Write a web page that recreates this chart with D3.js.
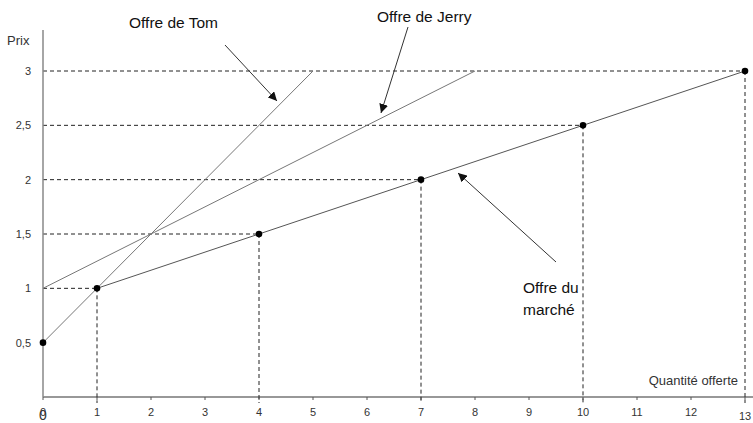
<!DOCTYPE html>
<html lang="fr">
<head>
  <meta charset="UTF-8">
  <title>Offre de Tom, de Jerry et du marché</title>
  <script src="https://d3js.org/d3.v7.min.js"></script>
  <style>
    body { background: #fff; margin: 0; }
    svg { display: block; font-family: "Liberation Sans", Arial, sans-serif; }
    .tick-label { font-size: 11px; fill: #333; }
    .axis-label { font-size: 13px; fill: #333; }
    .note { font-size: 15.5px; fill: #111; }
    .dash { stroke: #222; stroke-width: 1; stroke-dasharray: 4 3; fill: none; }
  </style>
</head>
<body>
  <svg width="753" height="423"></svg>

  <script>
// data
const xTicks = [0, 1, 2, 3, 4, 5, 6, 7, 8, 9, 10, 11, 12, 13];
const yTicks = [0.5, 1, 1.5, 2, 2.5, 3];
const yTickLabels = ["0,5", "1", "1,5", "2", "2,5", "3"];
const tomQty = [0, 5];
const tomPrice = [0.5, 3];
const jerryQty = [0, 8];
const jerryPrice = [1, 3];
const marketQty = [0, 1, 4, 7, 10, 13];
const marketPrice = [0.5, 1, 1.5, 2, 2.5, 3];

const svg = d3.select("svg");
const x = d3.scaleLinear().domain([0, 13]).range([43, 745]);
const y = d3.scaleLinear().domain([0, 3]).range([397, 71]);

// dashed guides (price level across, quantity down)
marketQty.forEach((q, i) => {
  const p = marketPrice[i];
  if (p >= 1) {
    svg.append("line").attr("class", "dash")
      .attr("x1", x(0)).attr("x2", x(q))
      .attr("y1", y(p)).attr("y2", y(p));
  }
  if (q > 0) {
    svg.append("line").attr("class", "dash")
      .attr("x1", x(q)).attr("x2", x(q))
      .attr("y1", y(p)).attr("y2", y(0) + 6);
  }
});

// axes
svg.append("line")
  .attr("x1", x(0)).attr("x2", 753)
  .attr("y1", y(0)).attr("y2", y(0))
  .attr("stroke", "#333").attr("stroke-width", 1.2);
svg.append("line")
  .attr("x1", x(0)).attr("x2", x(0))
  .attr("y1", 30).attr("y2", y(0))
  .attr("stroke", "#888").attr("stroke-width", 1.5);

svg.selectAll(".xtick").data(xTicks).enter().append("line")
  .attr("x1", d => x(d)).attr("x2", d => x(d))
  .attr("y1", y(0)).attr("y2", y(0) + 3)
  .attr("stroke", "#555");

svg.selectAll(".xlab").data(xTicks).enter().append("text")
  .attr("class", "tick-label")
  .attr("x", d => x(d)).attr("y", d => d === 13 ? 420 : 416)
  .attr("text-anchor", "middle")
  .text(d => d);
// the doubled zero under the origin
svg.append("text")
  .attr("x", x(0)).attr("y", 420)
  .attr("text-anchor", "middle")
  .attr("font-size", 14).attr("fill", "#333")
  .text("0");

svg.selectAll(".ylab").data(yTicks).enter().append("text")
  .attr("class", "tick-label")
  .attr("x", 31).attr("y", d => y(d) + 4)
  .attr("text-anchor", "end")
  .text((d, i) => yTickLabels[i]);

svg.append("text").attr("class", "axis-label")
  .attr("x", 7).attr("y", 45).text("Prix");
svg.append("text").attr("class", "axis-label")
  .attr("x", 738).attr("y", 385).attr("text-anchor", "end")
  .text("Quantité offerte");

// supply curves
const line = d3.line().x(d => x(d[0])).y(d => y(d[1]));
svg.append("path")
  .attr("d", line(d3.zip(tomQty, tomPrice)))
  .attr("stroke", "#777").attr("fill", "none");
svg.append("path")
  .attr("d", line(d3.zip(jerryQty, jerryPrice)))
  .attr("stroke", "#777").attr("fill", "none");
svg.append("path")
  .attr("d", line(d3.zip(marketQty, marketPrice).slice(1)))
  .attr("stroke", "#555").attr("fill", "none");

svg.selectAll(".pt").data(d3.zip(marketQty, marketPrice)).enter().append("circle")
  .attr("cx", d => x(d[0])).attr("cy", d => y(d[1]))
  .attr("r", 3.3).attr("fill", "#000");

// annotations
svg.append("defs").append("marker")
  .attr("id", "head")
  .attr("viewBox", "0 0 10 10")
  .attr("refX", 10).attr("refY", 5)
  .attr("markerWidth", 9).attr("markerHeight", 9)
  .attr("markerUnits", "userSpaceOnUse")
  .attr("orient", "auto")
  .append("path").attr("d", "M0,0 L10,5 L0,10 Z").attr("fill", "#111");

const arrows = [[225, 45, 277, 101], [408, 27, 381, 113], [556, 262, 458, 173]];
arrows.forEach(a => {
  svg.append("line")
    .attr("x1", a[0]).attr("y1", a[1]).attr("x2", a[2]).attr("y2", a[3])
    .attr("stroke", "#333").attr("stroke-width", 1)
    .attr("marker-end", "url(#head)");
});

svg.append("text").attr("class", "note").attr("x", 129).attr("y", 28).text("Offre de Tom");
svg.append("text").attr("class", "note").attr("x", 377).attr("y", 22).text("Offre de Jerry");
svg.append("text").attr("class", "note").attr("x", 523).attr("y", 293).text("Offre du");
svg.append("text").attr("class", "note").attr("x", 523).attr("y", 315).text("marché");
  </script>
</body>
</html>
